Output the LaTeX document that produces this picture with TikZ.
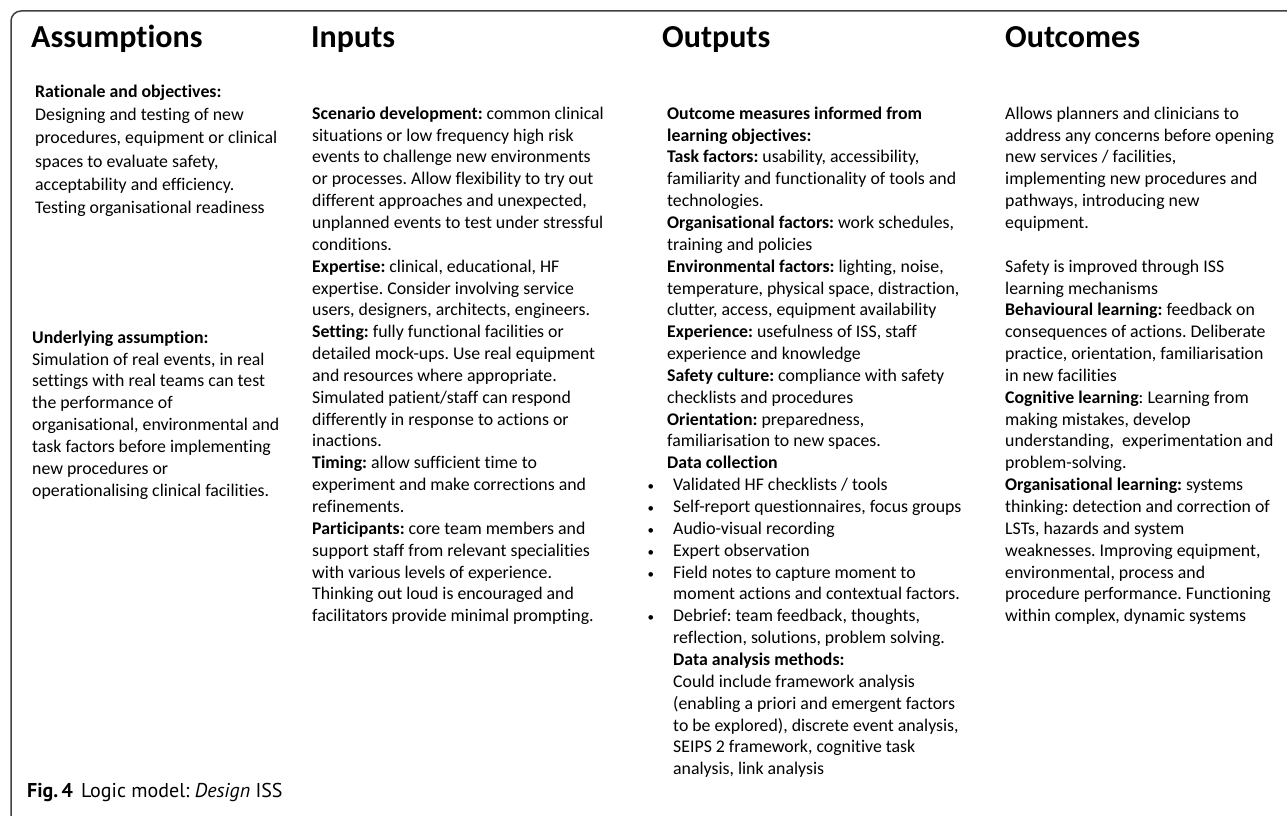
\documentclass[tikz,border=0pt]{standalone}
\usepackage{fontspec}
\setmainfont{Carlito}[Ligatures={NoCommon}]
\newfontfamily\capfont{PT Sans}
\frenchspacing
\newcommand\bul{\hspace*{6pt}\llap{{\fontsize{13}{13}\selectfont\textbullet}\hspace{19pt}}}
\newcommand\ind{\hspace*{6pt}}
\tikzset{
  head/.style={anchor=base west, inner sep=0pt, font=\fontsize{32}{38}\selectfont\bfseries},
  body/.style={anchor=north west, inner sep=0pt, align=left, font=\fontsize{17.8}{21.85}\selectfont},
  frame/.style={line width=1.5pt, draw=black!75, rounded corners=10pt},
}
\begin{document}
\begin{tikzpicture}[x=1pt, y=-1pt]
\useasboundingbox (0,0) rectangle (1287,816);
\draw[frame] (11,816) -- (11,11) -- (1287,11);

\node[head] (hA) at (31,48) {Assumptions};
\node[head] (hI) at (311,48) {Inputs};
\node[head] (hO) at (662,48) {Outputs};
\node[head] (hC) at (1005,48) {Outcomes};

\node[body, font=\fontsize{17.8}{23.3}\selectfont] (rat) at (35,80.7) {\strut\textbf{Rationale and objectives:}\\
Designing and testing of new\\
procedures, equipment or clinical\\
spaces to evaluate safety,\\
acceptability and efficiency.\\
Testing organisational readiness};

\node[body] (und) at (32,327.7) {\strut\textbf{Underlying assumption:}\\
Simulation of real events, in real\\
settings with real teams can test\\
the performance of\\
organisational, environmental and\\
task factors before implementing\\
new procedures or\\
operationalising clinical facilities.};

\node[body] (inp) at (312,103.7) {\strut\textbf{Scenario development:} common clinical\\
situations or low frequency high risk\\
events to challenge new environments\\
or processes. Allow flexibility to try out\\
different approaches and unexpected,\\
unplanned events to test under stressful\\
conditions.\\
\textbf{Expertise:} clinical, educational, HF\\
expertise. Consider involving service\\
users, designers, architects, engineers.\\
\textbf{Setting:} fully functional facilities or\\
detailed mock-ups. Use real equipment\\
and resources where appropriate.\\
Simulated patient/staff can respond\\
differently in response to actions or\\
inactions.\\
\textbf{Timing:} allow sufficient time to\\
experiment and make corrections and\\
refinements.\\
\textbf{Participants:} core team members and\\
support staff from relevant specialities\\
with various levels of experience.\\
Thinking out loud is encouraged and\\
facilitators provide minimal prompting.};

\node[body] (out) at (667,103.7) {\strut\textbf{Outcome measures informed from}\\
\textbf{learning objectives:}\\
\textbf{Task factors:} usability, accessibility,\\
familiarity and functionality of tools and\\
technologies.\\
\textbf{Organisational factors:} work schedules,\\
training and policies\\
\textbf{Environmental factors:} lighting, noise,\\
temperature, physical space, distraction,\\
clutter, access, equipment availability\\
\textbf{Experience:} usefulness of ISS, staff\\
experience and knowledge\\
\textbf{Safety culture:} compliance with safety\\
checklists and procedures\\
\textbf{Orientation:} preparedness,\\
familiarisation to new spaces.\\
\textbf{Data collection}\\
\bul Validated HF checklists / tools\\
\bul Self-report questionnaires, focus groups\\
\bul Audio-visual recording\\
\bul Expert observation\\
\bul Field notes to capture moment to\\
\ind moment actions and contextual factors.\\
\bul Debrief: team feedback, thoughts,\\
\ind reflection, solutions, problem solving.\\
\ind\textbf{Data analysis methods:}\\
\ind Could include framework analysis\\
\ind (enabling a priori and emergent factors\\
\ind to be explored), discrete event analysis,\\
\ind SEIPS 2 framework, cognitive task\\
\ind analysis, link analysis};

\node[body] (oc) at (1005,103.7) {\strut Allows planners and clinicians to\\
address any concerns before opening\\
new services / facilities,\\
implementing new procedures and\\
pathways, introducing new\\
equipment.\\[21.85pt]
Safety is improved through ISS\\
learning mechanisms\\
\textbf{Behavioural learning:} feedback on\\
consequences of actions. Deliberate\\
practice, orientation, familiarisation\\
in new facilities\\
\textbf{Cognitive learning}: Learning from\\
making mistakes, develop\\
understanding,\ \ experimentation and\\
problem-solving.\\
\textbf{Organisational learning:} systems\\
thinking: detection and correction of\\
LSTs, hazards and system\\
weaknesses. Improving equipment,\\
environmental, process and\\
procedure performance. Functioning\\
within complex, dynamic systems};

\node[anchor=base west, inner sep=0pt, font=\capfont\fontsize{20}{24}\selectfont] (cap) at (27,797) {\textbf{Fig.\,4}\hspace{8pt}Logic model: \textit{Design} ISS};
\end{tikzpicture}
\end{document}
